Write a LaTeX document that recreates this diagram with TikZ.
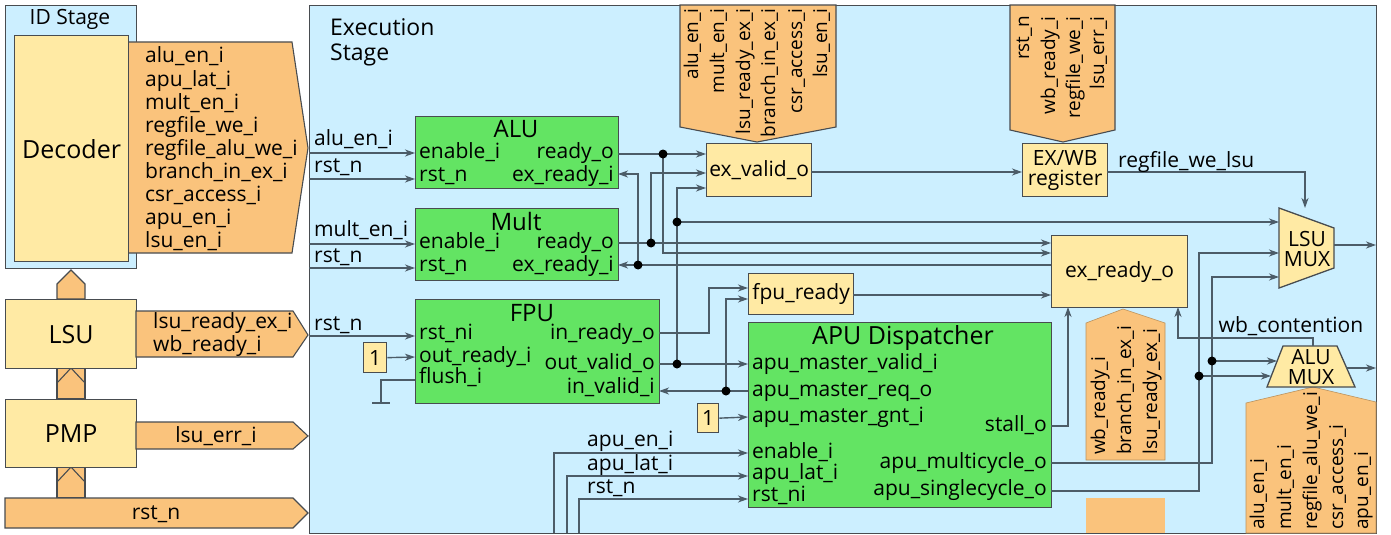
\documentclass[tikz,border=0pt]{standalone}
\usepackage{fontspec}
\setmainfont{Open Sans}
\usetikzlibrary{arrows.meta}
\definecolor{bluebg}{RGB}{204,239,255}
\definecolor{ylw}{RGB}{255,234,164}
\definecolor{org}{RGB}{250,195,124}
\definecolor{grn}{RGB}{99,228,99}
\definecolor{bcol}{RGB}{72,76,80}
\definecolor{wcol}{RGB}{76,92,104}
\begin{document}
\begin{tikzpicture}[x=1pt,y=-1pt,
 lab/.style={inner sep=0pt,font=\fontsize{21}{22}\selectfont,text height=15pt,text depth=5pt},
 rlab/.style={lab,font=\fontsize{19}{20}\selectfont,rotate=90},
 ttl/.style={inner sep=0pt,font=\fontsize{24}{26}\selectfont},
 big/.style={font=\fontsize{25}{27}\selectfont},
 box/.style={draw=bcol,line width=1.3pt,inner sep=0pt,anchor=north west,font=\fontsize{21}{20}\selectfont,align=center},
 ybox/.style={box,fill=ylw},
 gbox/.style={box,fill=grn},
 sbox/.style={box,fill=bluebg},
 ban/.style={draw=bcol,line width=1.1pt,fill=org},
 banl/.style={draw=org!75!black,line width=0.6pt,fill=org},
 wire/.style={draw=wcol,line width=1.4pt},
 arr/.style={wire,-{Stealth[length=10pt,width=7pt,inset=3pt]}},
 jn/.style={circle,fill=black,inner sep=0pt,minimum size=9pt}]
\useasboundingbox (0,0) rectangle (1391,535);
\fill[white] (0,0) rectangle (1391,535);

% ---------------- ID stage ----------------
\node[sbox,minimum width=131pt,minimum height=263pt] (idst) at (5,5) {};
\node[lab] (idlab) at (70,20) {ID Stage};
\draw[ban] (128,42) -- (292,42) -- (308,148) -- (292,253) -- (128,253) -- cycle;
\node[ybox,big,minimum width=114pt,minimum height=226pt] (dec) at (14,35) {Decoder};
\foreach \t [count=\i from 0] in {alu\_en\_i,apu\_lat\_i,mult\_en\_i,regfile\_we\_i,regfile\_alu\_we\_i,branch\_in\_ex\_i,csr\_access\_i,apu\_en\_i,lsu\_en\_i}
  \node[lab,anchor=west] (dl\i) at (145,58+23*\i) {\t};

% up arrows
\draw[ban] (57,299) -- (57,284) -- (71,270) -- (85,284) -- (85,299) -- cycle;
\draw[ban] (57,368) rectangle (85,399);
\draw[bcol,line width=1.1pt] (57,383) -- (71,368) -- (85,383);
\draw[ban] (57,467) rectangle (85,498);
\draw[bcol,line width=1.1pt] (57,482) -- (71,467) -- (85,482);

\node[ybox,big,minimum width=131pt,minimum height=69pt] (lsu) at (5,299) {LSU};
\node[ybox,big,minimum width=131pt,minimum height=68pt] (pmp) at (5,399) {PMP};

\draw[ban] (136,311) -- (293,311) -- (308,335) -- (293,357) -- (136,357) -- cycle;
\node[lab,anchor=west] (lb1) at (153,323) {lsu\_ready\_ex\_i};
\node[lab,anchor=west] (lb2) at (153,346) {wb\_ready\_i};
\draw[ban] (136,422) -- (293,422) -- (308,436) -- (293,449) -- (136,449) -- cycle;
\node[lab] (lb3) at (216,437) {lsu\_err\_i};
\draw[ban] (5,498) -- (293,498) -- (308,513) -- (293,528) -- (5,528) -- cycle;
\node[lab] (lb4) at (156,514) {rst\_n};

% ---------------- Execution stage ----------------
\node[sbox,minimum width=1067pt,minimum height=528pt] (exst) at (309,5) {};
\node[lab,anchor=west,font=\fontsize{23}{24}\selectfont] (ex1) at (330,31) {Execution};
\node[lab,anchor=west,font=\fontsize{23}{24}\selectfont] (ex2) at (330,55) {Stage};

% banners
\draw[ban] (680,5) -- (836,5) -- (836,127) -- (757,142) -- (680,127) -- cycle;
\foreach \x/\t [count=\i] in {693/alu\_en\_i,719/mult\_en\_i,745/lsu\_ready\_ex\_i,770/branch\_in\_ex\_i,797/csr\_access\_i,822/lsu\_en\_i}
  \node[rlab,anchor=east] (ba\i) at (\x,8) {\t};
\draw[ban] (1010,5) -- (1115,5) -- (1115,130) -- (1063,142) -- (1010,130) -- cycle;
\foreach \x/\t [count=\i] in {1024/rst\_n,1050/wb\_ready\_i,1075/regfile\_we\_i,1099/lsu\_err\_i}
  \node[rlab,anchor=east] (bb\i) at (\x,16) {\t};
\draw[banl] (1086,323) -- (1123,309) -- (1165,323) -- (1165,460) -- (1086,460) -- cycle;
\foreach \x/\t [count=\i] in {1100/wb\_ready\_i,1126/branch\_in\_ex\_i,1152/lsu\_ready\_ex\_i}
  \node[rlab,anchor=west] (bc\i) at (\x,455) {\t};
\fill[org] (1086,498) rectangle (1165,533);
\draw[banl] (1246,403) -- (1313,387) -- (1376,402) -- (1376,533) -- (1246,533) -- cycle;
\foreach \x/\t [count=\i] in {1259/alu\_en\_i,1286/mult\_en\_i,1312/regfile\_alu\_we\_i,1338/csr\_access\_i,1363/apu\_en\_i}
  \node[rlab,anchor=west] (bd\i) at (\x,530) {\t};

% ---------------- blocks ----------------
\node[gbox,minimum width=203pt,minimum height=72pt] (alu) at (415,116) {};
\node[ttl] (alut) at (516,129) {ALU};
\node[lab,anchor=west] at (419,153) {enable\_i};
\node[lab,anchor=west] at (419,176) {rst\_n};
\node[lab,anchor=east] at (614,153) {ready\_o};
\node[lab,anchor=east] at (614,176) {ex\_ready\_i};

\node[gbox,minimum width=203pt,minimum height=72pt] (mult) at (415,208) {};
\node[ttl] (multt) at (516,221) {Mult};
\node[lab,anchor=west] at (419,243) {enable\_i};
\node[lab,anchor=west] at (419,266) {rst\_n};
\node[lab,anchor=east] at (614,243) {ready\_o};
\node[lab,anchor=east] at (614,266) {ex\_ready\_i};

\node[gbox,minimum width=244pt,minimum height=104pt] (fpu) at (415,299) {};
\node[ttl] (fput) at (532,313) {FPU};
\node[lab,anchor=west] at (419,334) {rst\_ni};
\node[lab,anchor=west] at (419,357) {out\_ready\_i};
\node[lab,anchor=west] at (419,378) {flush\_i};
\node[lab,anchor=east] at (655,334) {in\_ready\_o};
\node[lab,anchor=east] at (655,364) {out\_valid\_o};
\node[lab,anchor=east] at (655,388) {in\_valid\_i};

\node[gbox,minimum width=303pt,minimum height=185pt] (apu) at (748,322) {};
\node[ttl,font=\fontsize{25}{27}\selectfont] (aput) at (903,338) {APU Dispatcher};
\node[lab,anchor=west] at (752,364) {apu\_master\_valid\_i};
\node[lab,anchor=west] at (752,391) {apu\_master\_req\_o};
\node[lab,anchor=west] at (752,417) {apu\_master\_gnt\_i};
\node[lab,anchor=west] at (752,453) {enable\_i};
\node[lab,anchor=west] at (752,474) {apu\_lat\_i};
\node[lab,anchor=west] at (752,496) {rst\_ni};
\node[lab,anchor=east] at (1047,426) {stall\_o};
\node[lab,anchor=east] at (1047,463) {apu\_multicycle\_o};
\node[lab,anchor=east] at (1047,490) {apu\_singlecycle\_o};

\node[ybox,minimum width=105pt,minimum height=53pt] (exv) at (706,143) {ex\_valid\_o};
\node[ybox,minimum width=85pt,minimum height=53pt] (exwb) at (1022,143) {EX/WB\\register};
\node[ybox,minimum width=105pt,minimum height=41pt] (fpur) at (748,273) {fpu\_ready};
\node[ybox,minimum width=136pt,minimum height=72pt] (exr) at (1051,235) {ex\_ready\_o};
\node[ybox,minimum width=23pt,minimum height=30pt] (c1a) at (363,342) {1};
\node[ybox,minimum width=21pt,minimum height=29pt] (c1b) at (697,403) {1};

\draw[draw=bcol,line width=1.3pt,fill=ylw] (1279,208) -- (1334,228) -- (1334,268) -- (1279,288) -- cycle;
\node[inner sep=0pt,align=center,font=\fontsize{21}{20}\selectfont] (lsumux) at (1307,249) {LSU\\MUX};
\draw[draw=bcol,line width=1.3pt,fill=ylw] (1283,346) -- (1337,346) -- (1355,387) -- (1267,387) -- cycle;
\node[inner sep=0pt,align=center,font=\fontsize{21}{20}\selectfont] (alumux) at (1311,367) {ALU\\MUX};

% ---------------- wires ----------------
\node[lab,anchor=west] at (314,140) {alu\_en\_i};
\draw[arr] (309,153) -- (415,153);
\node[lab,anchor=west] at (314,167) {rst\_n};
\draw[arr] (309,179) -- (415,179);
\node[lab,anchor=west] at (314,231) {mult\_en\_i};
\draw[arr] (309,244) -- (415,244);
\node[lab,anchor=west] at (314,257) {rst\_n};
\draw[arr] (309,268) -- (415,268);
\node[lab,anchor=west] at (314,325) {rst\_n};
\draw[arr] (309,336) -- (415,336);
\draw[arr] (c1a.east) -- (415,357);
\draw[wire] (415,380) -- (381,380) -- (381,403);
\draw[wire] (372,403) -- (390,403);

\draw[arr] (618,154) -- (706,154);
\draw[arr] (663,154) -- (663,253) -- (1051,253);
\draw[arr] (618,243) -- (1051,243);
\draw[arr] (651,243) -- (651,173) -- (706,173);
\draw[arr] (1051,265) -- (618,265);
\draw[arr] (638,265) -- (638,174) -- (618,174);
\draw[arr] (659,364) -- (748,364);
\draw[arr] (677,364) -- (677,188) -- (706,188);
\draw[arr] (677,222) -- (1279,222);
\draw[arr] (659,333) -- (709,333) -- (709,288) -- (748,288);
\draw[arr] (748,391) -- (659,391);
\draw[arr] (726,391) -- (726,299) -- (748,299);
\draw[arr] (853,295) -- (1051,295);
\draw[arr] (811,172) -- (1022,172);
\draw[arr] (1107,172) -- (1305,172) -- (1305,208);
\node[lab,anchor=west] at (1118,162) {regfile\_we\_lsu};
\draw[arr] (1051,426) -- (1068,426) -- (1068,307);
\draw[arr] (1051,463) -- (1212,463) -- (1212,277) -- (1279,277);
\draw[arr] (1212,361) -- (1277,361);
\draw[arr] (1051,491) -- (1199,491) -- (1199,253) -- (1279,253);
\draw[arr] (1199,376) -- (1271,376);
\draw[arr] (1313,346) -- (1313,338) -- (1178,338) -- (1178,307);
\node[lab] at (1291,327) {wb\_contention};
\draw[arr] (1334,245) -- (1376,245);
\draw[arr] (1346,368) -- (1376,368);
\draw[arr] (c1b.east) -- (748,417);

\draw[arr] (554,533) -- (554,453) -- (748,453);
\draw[arr] (567,533) -- (567,476) -- (748,476);
\draw[arr] (579,533) -- (579,499) -- (748,499);
\node[lab,anchor=west] at (587,441) {apu\_en\_i};
\node[lab,anchor=west] at (587,465) {apu\_lat\_i};
\node[lab,anchor=west] at (587,488) {rst\_n};

% junction dots
\node[jn] (j1) at (663,154) {};
\node[jn] (j2) at (651,243) {};
\node[jn] (j3) at (638,265) {};
\node[jn] (j4) at (677,364) {};
\node[jn] (j5) at (677,222) {};
\node[jn] (j6) at (726,391) {};
\node[jn] (j7) at (1212,361) {};
\node[jn] (j8) at (1199,376) {};
\end{tikzpicture}
\end{document}
